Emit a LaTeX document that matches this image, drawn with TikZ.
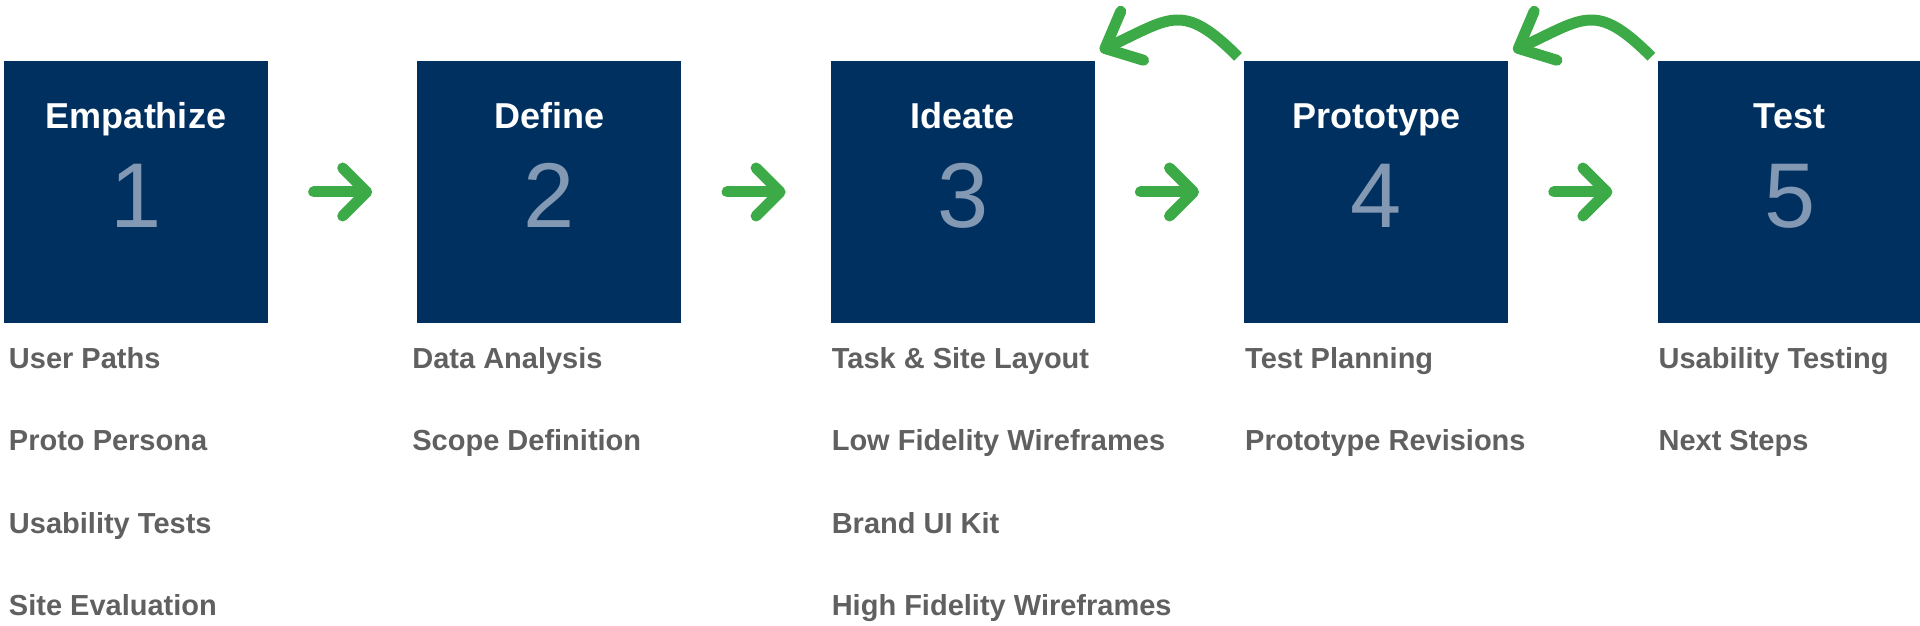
\documentclass[tikz,border=0pt]{standalone}
\usepackage{fontspec}
\setmainfont{Liberation Sans}
\usetikzlibrary{positioning,arrows.meta}
\definecolor{navy}{RGB}{0,48,96}
\definecolor{numblue}{RGB}{130,152,179}
\definecolor{arrowgreen}{RGB}{61,170,72}
\definecolor{itemgray}{RGB}{96,96,96}
\tikzset{node distance=149pt,
  phase/.style={fill=navy, minimum width=264pt, minimum height=262pt, inner sep=0pt},
  phasetitle/.style={text=white, font=\fontsize{36}{40}\selectfont\bfseries, anchor=base, inner sep=0pt},
  digit/.style={text=numblue, font=\fontsize{92}{96}\selectfont, anchor=base, inner sep=0pt},
  item/.style={text=itemgray, font=\fontsize{29}{33}\selectfont\bfseries, anchor=base west, inner sep=0pt},
  fwdarrow/.style={arrowgreen, line width=11pt, line cap=round, shorten <=45.5pt, shorten >=45pt,
    -{Straight Barb[round, length=24pt, width=48pt]}},
  backarrow/.style={arrowgreen, line width=11pt, -{Straight Barb[round, length=30pt, width=54pt]}}
}

\begin{document}
\begin{tikzpicture}[x=1pt,y=1pt]
  \useasboundingbox (0,0) rectangle (1920,626);
  \node[phase] (s1) at (136,434) {};
  \node[phase] (s2) [right=of s1] {};
  \node[phase] (s3) [right=of s2] {};
  \node[phase] (s4) [right=of s3] {};
  \node[phase] (s5) [right=of s4] {};

  \node[phasetitle] (t1) at ([yshift=-68pt]s1.north) {Empathize};
  \node[phasetitle] (t2) at ([yshift=-68pt]s2.north) {Define};
  \node[phasetitle] (t3) at ([yshift=-68pt]s3.north) {Ideate};
  \node[phasetitle] (t4) at ([yshift=-68pt]s4.north) {Prototype};
  \node[phasetitle] (t5) at ([yshift=-68pt]s5.north) {Test};

  \node[digit] (n1) at ([yshift=-36pt]s1.center) {1};
  \node[digit] (n2) at ([yshift=-36pt]s2.center) {2};
  \node[digit] (n3) at ([yshift=-36pt]s3.center) {3};
  \node[digit] (n4) at ([yshift=-36pt]s4.center) {4};
  \node[digit] (n5) at ([yshift=-36pt]s5.center) {5};

  \foreach \txt [count=\i] in {User Paths, Proto Persona, Usability Tests, Site Evaluation}
    \node[item] (a\i) at ([xshift=5pt, yshift={-45pt-82.5pt*(\i-1)}]s1.south west) {\txt};
  \foreach \txt [count=\i] in {Data Analysis, Scope Definition}
    \node[item] (b\i) at ([xshift=-5pt, yshift={-45pt-82.5pt*(\i-1)}]s2.south west) {\txt};
  \foreach \txt [count=\i] in {Task \& Site Layout, Low Fidelity Wireframes, Brand UI Kit, High Fidelity Wireframes}
    \node[item] (c\i) at ([xshift=1pt, yshift={-45pt-82.5pt*(\i-1)}]s3.south west) {\txt};
  \foreach \txt [count=\i] in {Test Planning, Prototype Revisions}
    \node[item] (d\i) at ([xshift=1pt, yshift={-45pt-82.5pt*(\i-1)}]s4.south west) {\txt};
  \foreach \txt [count=\i] in {Usability Testing, Next Steps}
    \node[item] (e\i) at ([xshift=1pt, yshift={-45pt-82.5pt*(\i-1)}]s5.south west) {\txt};

  \draw[fwdarrow] (s1) -- (s2);
  \draw[fwdarrow] (s2) -- (s3);
  \draw[fwdarrow] (s3) -- (s4);
  \draw[fwdarrow] (s4) -- (s5);

  \coordinate (r4) at ([shift={(-6pt,4pt)}]s4.north west);
  \coordinate (r3) at ([shift={(5pt,10pt)}]s3.north east);
  \coordinate (r5) at ([shift={(-6pt,4pt)}]s5.north west);
  \coordinate (q4) at ([shift={(5pt,10pt)}]s4.north east);
  \draw[backarrow] (r4) to[out=135, in=25, looseness=1.45] (r3);
  \draw[backarrow] (r5) to[out=135, in=25, looseness=1.45] (q4);
\end{tikzpicture}
\end{document}
